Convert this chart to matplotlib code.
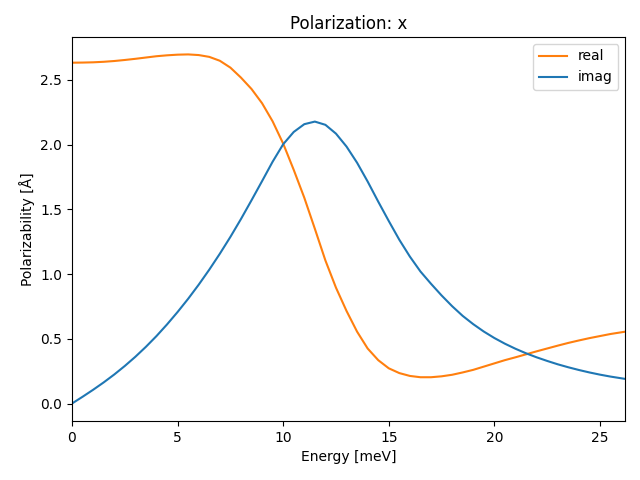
import matplotlib
matplotlib.use("Agg")
import matplotlib.pyplot as plt

# values
energy = [0, 0.5, 1, 1.5, 2, 2.5, 3, 3.5, 4, 4.5, 5, 5.5, 6, 6.5, 7, 7.5, 8, 8.5,
          9, 9.5, 10, 10.5, 11, 11.5, 12, 12.5, 13, 13.5, 14, 14.5, 15, 15.5, 16,
          16.5, 17, 17.5, 18, 18.5, 19, 19.5, 20, 20.5, 21, 21.5, 22, 22.5, 23,
          23.5, 24, 24.5, 25, 25.5, 26.2]

real = [2.633, 2.634, 2.636, 2.640, 2.646, 2.654, 2.663, 2.673, 2.683, 2.690,
        2.695, 2.697, 2.692, 2.678, 2.648, 2.595, 2.518, 2.430, 2.320, 2.180,
        2.008, 1.805, 1.590, 1.350, 1.105, 0.895, 0.715, 0.555, 0.425, 0.335,
        0.272, 0.235, 0.213, 0.203, 0.203, 0.210, 0.222, 0.240, 0.260, 0.285,
        0.310, 0.335, 0.357, 0.380, 0.403, 0.425, 0.447, 0.468, 0.487, 0.505,
        0.521, 0.537, 0.555]

imag = [0.000, 0.052, 0.106, 0.163, 0.224, 0.290, 0.361, 0.438, 0.521, 0.611,
        0.707, 0.809, 0.918, 1.034, 1.157, 1.287, 1.425, 1.570, 1.718, 1.868,
        2.003, 2.098, 2.158, 2.178, 2.153, 2.085, 1.985, 1.860, 1.715, 1.560,
        1.410, 1.265, 1.135, 1.020, 0.925, 0.835, 0.752, 0.677, 0.613, 0.556,
        0.506, 0.462, 0.423, 0.388, 0.357, 0.329, 0.303, 0.280, 0.259, 0.240,
        0.223, 0.208, 0.190]

fig, ax = plt.subplots(figsize=(6.4, 4.8), dpi=100)
ax.plot(energy, real, color="C1", label="real")
ax.plot(energy, imag, color="C0", label="imag")
ax.set_xlim(energy[0], energy[-1])
ax.set_title("Polarization: x")
ax.set_xlabel("Energy [meV]")
ax.set_ylabel("Polarizability [Å]")
ax.legend(loc="upper right")
fig.subplots_adjust(left=0.1125, right=0.977, top=0.923, bottom=0.123)
fig.savefig("out.png")
